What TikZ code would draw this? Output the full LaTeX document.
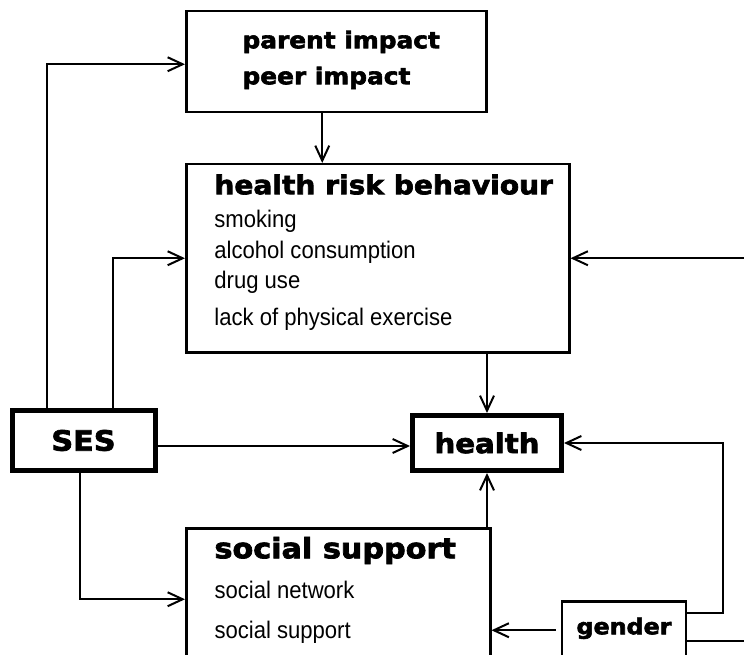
\documentclass[tikz,border=0pt]{standalone}
\usepackage{fontspec}
\setmainfont{Liberation Sans}[FakeStretch=0.92]
\newfontfamily\headfont[FakeStretch=1.08, FakeBold=2.6]{DejaVu Sans}
\usetikzlibrary{arrows.meta}

\newcommand{\hd}[1]{\headfont\bfseries\fontsize{#1}{#1}\selectfont}

\begin{document}
\begin{tikzpicture}[
    x=1pt, y=-1pt,
    font=\fontsize{24}{30}\selectfont,
    %% ── Box styles ──────────────────────────────────────────────────────
    thinbox/.style={
        draw, line width=2.5pt,
        inner xsep=0pt, inner ysep=6pt,
        align=left,
    },
    thickbox/.style={
        draw, line width=5pt,
        inner sep=0pt,
    },
    %% ── Arrow style ─────────────────────────────────────────────────────
    conn/.style={
        -{Straight Barb[length=15pt, width=14pt]},
        line width=2pt,
    },
]

\useasboundingbox (0,0) rectangle (744,655);
\clip (0,0) rectangle (744,655);

%%─────────────────────────────────────────────────────────────────────────
%% Boxes
%%─────────────────────────────────────────────────────────────────────────
\node[thinbox, anchor=north west, minimum width=300pt,
      text height=31pt, text depth=58pt] (impact) at (185,10) {
    \begin{tabular}[t]{@{\hspace{16pt}}l@{}}
        \hd{23}parent impact\\[6pt]
        \hd{23}peer impact
    \end{tabular}
};

\node[thinbox, anchor=north west, minimum width=383pt,
      text height=24pt, text depth=152pt] (hrb) at (185,163) {
    \begin{tabular}[t]{@{\hspace{18pt}}l@{}}
        \hd{26}health risk behaviour\\[3pt]
        smoking\\[1pt]
        alcohol consumption\\
        drug use\\[7pt]
        lack of physical exercise
    \end{tabular}
};

\node[thickbox, minimum width=143pt, minimum height=60pt] (ses) at (83.5,440.5) {\hd{28}SES};

\node[thickbox, minimum width=149pt, minimum height=55pt] (health) at (487,443) {\hd{27}health};

\node[thinbox, anchor=north west, minimum width=304pt,
      text height=24pt, text depth=106pt] (social) at (185,527) {
    \begin{tabular}[t]{@{}l@{}}
        \hd{28}social support\\[10pt]
        social network\\[10pt]
        social support
    \end{tabular}
};

\node[thinbox, anchor=north, minimum width=124pt,
      text height=27pt, text depth=19pt] (gender) at (624,600) {\hd{22}gender};

%%─────────────────────────────────────────────────────────────────────────
%% Connectors
%%─────────────────────────────────────────────────────────────────────────

%% SES -> parent/peer impact, SES -> health risk behaviour
\draw[conn] ([xshift=-36.5pt]ses.north) |- ([yshift=-2.5pt]impact.west);
\draw[conn] ([xshift=29.5pt]ses.north) |- (hrb.west);

%% impact -> health risk behaviour -> health
\draw[conn] ([xshift=-14pt]impact.south) -- ([xshift=-14pt]impact.south |- hrb.north);
\draw[conn] (health.north |- hrb.south) -- (health.north);

%% SES -> health, SES -> social support
\draw[conn] ([yshift=-3pt]health.west -| ses.east) -- ([yshift=-3pt]health.west);
\draw[conn] ([xshift=-3.5pt]ses.south) |- (social.west);

%% social support -> health
\draw[conn] (health.south |- social.north) -- (health.south);

%% gender -> social support, health, health risk behaviour
\draw[conn, shorten <=5pt] (gender.west) -- (gender.west -| social.east);
\draw[conn] ([yshift=17pt]gender.east) -| ([xshift=158.5pt]health.east) -- (health.east);
\draw[conn] ([yshift=-11pt]gender.east) -| ([xshift=200pt]hrb.east) -- (hrb.east);

\end{tikzpicture}
\end{document}
